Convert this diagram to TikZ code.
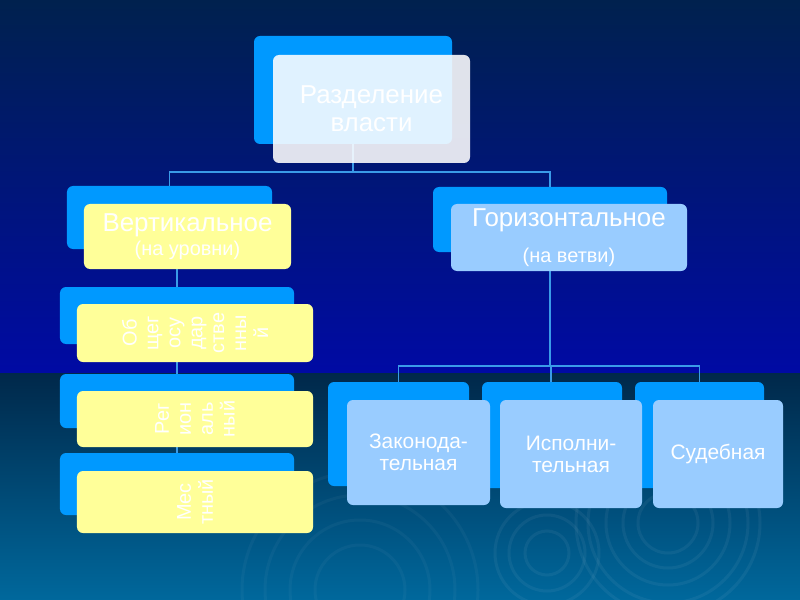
\documentclass[tikz,border=0pt]{standalone}
\usepackage{fontspec}
\setmainfont{Liberation Sans}
\usepackage{tikz}
\usetikzlibrary{positioning}
\definecolor{backblue}{HTML}{0099FF}
\definecolor{paleblue}{HTML}{99CCFF}
\definecolor{paleyellow}{HTML}{FFFF99}
\definecolor{linkblue}{HTML}{3A9BE8}
\definecolor{navytop}{HTML}{00214E}
\definecolor{navybot}{HTML}{000AA4}
\definecolor{seatop}{HTML}{00284A}
\definecolor{seabot}{HTML}{00689C}

\begin{document}
\begin{tikzpicture}[x=1bp,y=-1bp,
  back/.style={fill=backblue,rounded corners=6bp,inner sep=0pt},
  front/.style={rounded corners=6bp,inner sep=0pt,text=white,align=center},
  link/.style={draw=linkblue,line width=1.5bp},
  ring/.style={draw=white,opacity=0.05,line width=3bp}]
\useasboundingbox (0,0) rectangle (800,600);
% background
\shade[top color=navytop,bottom color=navybot] (0,0) rectangle (800,373);
\shade[top color=seatop,bottom color=seabot] (0,373) rectangle (800,600);
\foreach \r in {30,45,62,80,92} \draw[ring] (668,523) circle(\r);
\foreach \r in {22,38,52} \draw[ring] (547,553) circle(\r);
\foreach \r in {45,70,95,118} \draw[ring,opacity=0.035] (360,590) circle(\r);
% nodes (back)
\node[back,minimum width=198bp,minimum height=108bp] (rootb) at (353,90) {};
\node[back,minimum width=205bp,minimum height=63bp] (vb) at (169.5,217.5) {};
\node[back,minimum width=234bp,minimum height=65bp] (hb) at (550,219.5) {};
\node[back,minimum width=234bp,minimum height=57bp] (s1b) at (177,315.5) {};
\node[back,minimum width=234bp,minimum height=54bp] (s2b) at (177,401) {};
\node[back,minimum width=234bp,minimum height=62bp] (s3b) at (177,484) {};
\node[back,minimum width=141bp,minimum height=104bp] (b1) at (398.5,434) {};
\node[back,minimum width=140bp,minimum height=106bp] (b2) at (552,435) {};
\node[back,minimum width=129bp,minimum height=106bp] (b3) at (699.5,435) {};
% connectors
\coordinate (top) at (353,172);
\coordinate (mid) at (551,366);
\draw[link] (rootb.south) -- (top);
\draw[link] (vb.north) |- (top) -| (hb.north);
\draw[link] (vb.south -| s1b.north) -- (s1b.north);
\draw[link] (s1b.south) -- (s2b.north);
\draw[link] (s2b.south) -- (s3b.north);
\draw[link] (hb.south) -- (hb.south |- mid);
\draw[link] (b1.north) |- (mid) -| (b3.north);
\draw[link] (mid) -- (mid |- b2.north);
% nodes (front)
\node[front,fill=white,fill opacity=0.88,text opacity=1,minimum width=197bp,minimum height=108bp,
  font=\fontsize{26}{28}\selectfont] (root) at (371.5,109) {Разделение\\власти};
\node[front,fill=paleyellow,minimum width=207bp,minimum height=65bp,font=\fontsize{26}{28}\selectfont]
  (vert) at (187.5,236.5) {Вертикальное\\[-4bp]{\fontsize{20}{22}\selectfont(на уровни)}};
\node[front,fill=paleblue,minimum width=236bp,minimum height=67bp,font=\fontsize{26}{28}\selectfont]
  (horiz) at (569,237.5) {Горизонтальное\\[8bp]{\fontsize{20}{22}\selectfont(на ветви)}};
\node[front,fill=paleyellow,rotate=90,minimum width=58bp,minimum height=236bp,font=\fontsize{20}{22}\selectfont]
  (s1) at (195,333) {Об\\щег\\осу\\дар\\стве\\нны\\й};
\node[front,fill=paleyellow,rotate=90,minimum width=56bp,minimum height=236bp,font=\fontsize{20}{22}\selectfont]
  (s2) at (195,419) {Рег\\ион\\аль\\ный};
\node[front,fill=paleyellow,rotate=90,minimum width=62bp,minimum height=236bp,font=\fontsize{20}{22}\selectfont]
  (s3) at (195,502) {Мес\\тный};
\node[front,fill=paleblue,minimum width=143bp,minimum height=105bp,font=\fontsize{21}{22}\selectfont]
  (leg) at (418.5,452.5) {Законода-\\тельная};
\node[front,fill=paleblue,minimum width=142bp,minimum height=108bp,font=\fontsize{21}{22}\selectfont]
  (exec) at (571,454) {Исполни-\\тельная};
\node[front,fill=paleblue,minimum width=130bp,minimum height=108bp,font=\fontsize{21}{22}\selectfont]
  (jud) at (718,454) {Судебная};
\end{tikzpicture}
\end{document}
